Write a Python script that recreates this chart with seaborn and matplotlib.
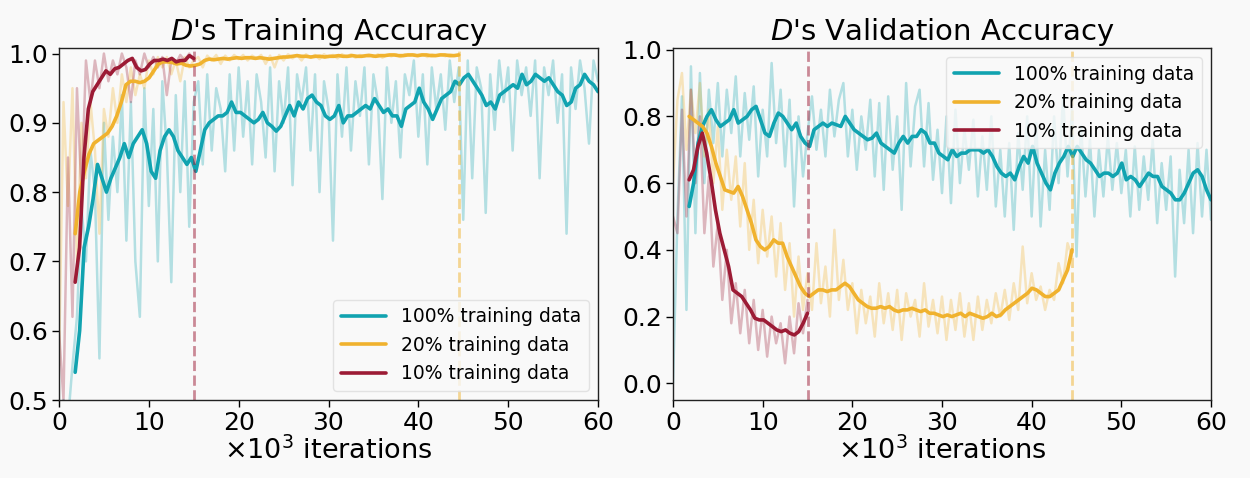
import numpy as np
import pandas as pd
import matplotlib
matplotlib.use("Agg")
import matplotlib.pyplot as plt
import seaborn as sns

# ---- data (x in thousands of iterations) ----
labels = ["100% training data", "20% training data", "10% training data"]
colors = ["#11a3b0", "#f0b22e", "#9c1b35"]
ends = [60.0, 44.5, 15.0]
smooth_start = 1.8

# training accuracy, raw (0 .. end, every 0.5k)
train_100_raw = [
    0.45, 0.50, 0.47, 0.55, 0.62, 0.78, 0.70, 0.86, 0.80, 0.56,
    0.90, 0.76, 0.88, 0.80, 0.94, 0.73, 0.93, 0.70, 0.62, 0.95,
    0.78, 0.92, 0.70, 0.96, 0.86, 0.67, 0.94, 0.80, 0.96, 0.75,
    0.93, 0.96, 0.84, 0.97, 0.86, 0.95, 0.92, 0.83, 0.97, 0.86,
    0.98, 0.88, 0.96, 0.84, 0.97, 0.93, 0.85, 0.98, 0.83, 0.96,
    0.90, 0.98, 0.81, 0.97, 0.93, 0.98, 0.86, 0.97, 0.80, 0.96,
    0.92, 0.73, 0.97, 0.88, 0.98, 0.86, 0.96, 0.91, 0.98, 0.84,
    0.97, 0.93, 0.79, 0.98, 0.90, 0.96, 0.85, 0.97, 0.94, 0.99,
    0.88, 0.97, 0.84, 0.98, 0.92, 0.97, 0.89, 0.99, 0.93, 0.98,
    0.76, 0.99, 0.82, 0.98, 0.95, 0.77, 0.97, 0.89, 0.99, 0.93,
    0.98, 0.86, 0.99, 0.94, 0.98, 0.91, 0.99, 0.82, 0.98, 0.94,
    0.99, 0.90, 0.97, 0.74, 0.98, 0.92, 0.99, 0.95, 0.87, 0.99,
    0.96,
]
train_20_raw = [
    0.55, 0.93, 0.78, 0.95, 0.70, 0.90, 0.82, 0.93, 0.86, 0.74,
    0.92, 0.88, 0.95, 0.90, 0.97, 0.93, 0.98, 0.94, 0.97, 0.95,
    0.99, 0.97, 0.995, 0.98, 0.995, 0.97, 0.99, 0.96, 0.995, 0.98,
    0.99, 0.995, 0.98, 0.997, 0.99, 0.998, 0.985, 0.997, 0.99, 0.998,
    0.992, 0.998, 0.99, 0.997, 0.993, 0.998, 0.985, 0.997, 0.98, 0.998,
    0.99, 0.999, 0.993, 0.998, 0.99, 0.999, 0.994, 0.998, 0.992, 0.999,
    0.995, 0.998, 0.993, 0.999, 0.995, 0.999, 0.994, 0.998, 0.996, 0.999,
    0.995, 0.999, 0.994, 0.998, 0.996, 0.999, 0.995, 0.999, 0.997, 0.999,
    0.996, 0.999, 0.995, 0.999, 0.997, 0.999, 0.996, 0.999, 0.997, 0.998,
]
train_10_raw = [
    0.60, 0.50, 0.85, 0.62, 0.95, 0.80, 0.99, 0.93, 0.99, 0.95,
    1.00, 0.96, 0.99, 0.97, 1.00, 0.98, 0.93, 0.99, 0.97, 1.00,
    0.98, 0.995, 0.98, 0.995, 0.94, 0.99, 0.985, 0.998, 0.99, 1.00,
    0.99,
]

# training accuracy, smoothed (1.8 .. end)
train_100_smooth = [
    0.54,
    0.60, 0.72, 0.75, 0.79, 0.84, 0.82, 0.80, 0.82, 0.835, 0.85,
    0.87, 0.85, 0.87, 0.88, 0.89, 0.87, 0.83, 0.82, 0.86, 0.88,
    0.89, 0.88, 0.86, 0.85, 0.84, 0.85, 0.83, 0.86, 0.89, 0.90,
    0.905, 0.91, 0.91, 0.915, 0.93, 0.915, 0.915, 0.91, 0.905, 0.90,
    0.905, 0.915, 0.90, 0.895, 0.888, 0.895, 0.91, 0.925, 0.91, 0.93,
    0.92, 0.935, 0.94, 0.93, 0.925, 0.91, 0.905, 0.91, 0.925, 0.90,
    0.91, 0.91, 0.915, 0.92, 0.925, 0.92, 0.935, 0.925, 0.915, 0.92,
    0.91, 0.91, 0.895, 0.92, 0.925, 0.93, 0.95, 0.93, 0.92, 0.905,
    0.92, 0.935, 0.94, 0.945, 0.96, 0.955, 0.965, 0.97, 0.96, 0.95,
    0.94, 0.925, 0.93, 0.92, 0.94, 0.945, 0.95, 0.955, 0.95, 0.97,
    0.955, 0.96, 0.97, 0.965, 0.96, 0.965, 0.955, 0.945, 0.94, 0.925,
    0.93, 0.95, 0.955, 0.97, 0.96, 0.955, 0.945,
]
train_20_smooth = [
    0.74,
    0.80, 0.83, 0.855, 0.87, 0.875, 0.88, 0.885, 0.895, 0.91, 0.93,
    0.955, 0.96, 0.96, 0.958, 0.96, 0.965, 0.975, 0.985, 0.988, 0.988,
    0.987, 0.985, 0.986, 0.983, 0.982, 0.983, 0.985, 0.99, 0.992, 0.991,
    0.992, 0.993, 0.992, 0.993, 0.994, 0.993, 0.994, 0.994, 0.993, 0.994,
    0.993, 0.992, 0.993, 0.994, 0.995, 0.995, 0.996, 0.997, 0.996, 0.996,
    0.995, 0.996, 0.996, 0.995, 0.996, 0.996, 0.997, 0.996, 0.996, 0.997,
    0.996, 0.996, 0.997, 0.997, 0.996, 0.997, 0.997, 0.998, 0.998, 0.997,
    0.997, 0.998, 0.998, 0.997, 0.998, 0.998, 0.997, 0.997, 0.998, 0.998,
    0.997, 0.997, 0.998,
]
train_10_smooth = [
    0.67,
    0.72, 0.85, 0.92, 0.945, 0.955, 0.965, 0.975, 0.97, 0.978, 0.98,
    0.985, 0.99, 0.993, 0.98, 0.975, 0.977, 0.985, 0.99, 0.99, 0.992,
    0.99, 0.993, 0.988, 0.99, 0.99, 0.997, 0.993,
]

# validation accuracy, raw
val_100_raw = [
    0.00, 0.50, 0.86, 0.22, 0.95, 0.45, 0.93, 0.60, 0.88, 0.72,
    0.90, 0.68, 0.88, 0.75, 0.92, 0.68, 0.87, 0.73, 0.89, 0.62,
    0.82, 0.68, 0.96, 0.72, 0.88, 0.65, 0.85, 0.53, 0.80, 0.62,
    0.75, 0.86, 0.70, 0.82, 0.68, 0.88, 0.74, 0.85, 0.90, 0.68,
    0.82, 0.64, 0.80, 0.70, 0.85, 0.62, 0.84, 0.58, 0.86, 0.64,
    0.80, 0.52, 0.90, 0.65, 0.83, 0.88, 0.65, 0.84, 0.61, 0.76,
    0.57, 0.80, 0.54, 0.82, 0.60, 0.76, 0.64, 0.79, 0.56, 0.74,
    0.58, 0.80, 0.53, 0.70, 0.50, 0.72, 0.46, 0.75, 0.58, 0.80,
    0.50, 0.78, 0.47, 0.70, 0.52, 0.80, 0.60, 0.86, 0.62, 0.82,
    0.38, 0.77, 0.56, 0.73, 0.50, 0.70, 0.56, 0.74, 0.58, 0.72,
    0.57, 0.70, 0.50, 0.71, 0.52, 0.68, 0.55, 0.73, 0.48, 0.66,
    0.52, 0.68, 0.32, 0.64, 0.48, 0.70, 0.45, 0.72, 0.50, 0.70,
    0.49,
]
val_20_raw = [
    0.60, 0.85, 0.93, 0.70, 0.88, 0.75, 0.90, 0.68, 0.82, 0.60,
    0.77, 0.52, 0.70, 0.55, 0.68, 0.47, 0.66, 0.40, 0.55, 0.36,
    0.52, 0.38, 0.50, 0.32, 0.48, 0.28, 0.42, 0.20, 0.38, 0.22,
    0.33, 0.22, 0.42, 0.24, 0.35, 0.20, 0.46, 0.25, 0.37, 0.22,
    0.30, 0.15, 0.28, 0.18, 0.26, 0.14, 0.30, 0.18, 0.27, 0.16,
    0.28, 0.13, 0.27, 0.20, 0.25, 0.14, 0.30, 0.17, 0.25, 0.15,
    0.26, 0.13, 0.25, 0.16, 0.27, 0.14, 0.24, 0.13, 0.26, 0.16,
    0.25, 0.18, 0.27, 0.20, 0.28, 0.19, 0.30, 0.22, 0.41, 0.24,
    0.33, 0.25, 0.29, 0.22, 0.28, 0.25, 0.36, 0.30, 0.42, 0.38,
]
val_10_raw = [
    0.50, 0.45, 0.82, 0.50, 0.88, 0.60, 0.80, 0.45, 0.62, 0.35,
    0.48, 0.25, 0.40, 0.18, 0.30, 0.15, 0.28, 0.12, 0.25, 0.10,
    0.22, 0.08, 0.20, 0.12, 0.18, 0.06, 0.20, 0.09, 0.24, 0.15,
    0.25,
]

# validation accuracy, smoothed
val_100_smooth = [
    0.53,
    0.60, 0.72, 0.77, 0.80, 0.82, 0.79, 0.77, 0.78, 0.79, 0.82,
    0.78, 0.79, 0.80, 0.82, 0.83, 0.79, 0.75, 0.74, 0.78, 0.81,
    0.80, 0.78, 0.76, 0.78, 0.74, 0.72, 0.71, 0.76, 0.77, 0.78,
    0.77, 0.78, 0.775, 0.77, 0.80, 0.78, 0.76, 0.75, 0.74, 0.73,
    0.735, 0.75, 0.72, 0.71, 0.70, 0.69, 0.72, 0.74, 0.72, 0.74,
    0.74, 0.76, 0.75, 0.72, 0.72, 0.69, 0.68, 0.67, 0.70, 0.68,
    0.69, 0.69, 0.70, 0.70, 0.70, 0.69, 0.70, 0.68, 0.65, 0.63,
    0.62, 0.63, 0.61, 0.65, 0.68, 0.66, 0.71, 0.66, 0.63, 0.60,
    0.58, 0.63, 0.66, 0.68, 0.71, 0.68, 0.71, 0.69, 0.67, 0.66,
    0.64, 0.62, 0.63, 0.63, 0.62, 0.63, 0.66, 0.61, 0.62, 0.61,
    0.59, 0.61, 0.63, 0.62, 0.62, 0.59, 0.58, 0.57, 0.55, 0.55,
    0.57, 0.60, 0.63, 0.64, 0.62, 0.58, 0.55,
]
val_20_smooth = [
    0.80,
    0.79, 0.78, 0.77, 0.75, 0.71, 0.66, 0.62, 0.58, 0.575, 0.57,
    0.59, 0.56, 0.52, 0.48, 0.43, 0.41, 0.40, 0.41, 0.43, 0.42,
    0.42, 0.38, 0.35, 0.32, 0.29, 0.27, 0.26, 0.27, 0.28, 0.28,
    0.275, 0.28, 0.28, 0.29, 0.30, 0.29, 0.27, 0.25, 0.24, 0.23,
    0.225, 0.225, 0.23, 0.225, 0.23, 0.22, 0.215, 0.22, 0.22, 0.225,
    0.22, 0.215, 0.22, 0.21, 0.21, 0.205, 0.20, 0.205, 0.20, 0.205,
    0.21, 0.20, 0.21, 0.205, 0.20, 0.195, 0.20, 0.21, 0.20, 0.205,
    0.22, 0.23, 0.24, 0.25, 0.26, 0.27, 0.285, 0.28, 0.27, 0.26,
    0.26, 0.27, 0.28, 0.31, 0.34, 0.40,
]
val_10_smooth = [
    0.61,
    0.64, 0.71, 0.75, 0.69, 0.61, 0.52, 0.45, 0.40, 0.35, 0.28,
    0.27, 0.26, 0.24, 0.22, 0.195, 0.19, 0.19, 0.18, 0.17, 0.16,
    0.155, 0.16, 0.15, 0.145, 0.155, 0.18, 0.21,
]

panels = [
    ("$D$'s Training Accuracy",
     [train_100_raw, train_20_raw, train_10_raw],
     [train_100_smooth, train_20_smooth, train_10_smooth],
     (0.5, 1.008), [0.5, 0.6, 0.7, 0.8, 0.9, 1.0], "lower right"),
    ("$D$'s Validation Accuracy",
     [val_100_raw, val_20_raw, val_10_raw],
     [val_100_smooth, val_20_smooth, val_10_smooth],
     (-0.05, 1.005), [0.0, 0.2, 0.4, 0.6, 0.8, 1.0], "upper right"),
]


def to_frame(values, start, end):
    return pd.DataFrame({"x": np.linspace(start, end, len(values)), "y": values})


sns.set_style("ticks")
plt.rcParams["font.family"] = ["DejaVu Sans"]
plt.rcParams["mathtext.fontset"] = "dejavusans"
plt.rcParams["text.color"] = "black"

bg = "#f9f9f9"
W, H = 1250, 478
fig, axes = plt.subplots(1, 2, figsize=(W / 100, H / 100), dpi=100, facecolor=bg)
axes[0].set_position([59 / W, 1 - 400 / H, 539 / W, 352 / H])
axes[1].set_position([673 / W, 1 - 400 / H, 538 / W, 352 / H])

for ax, (title, raws, smooths, ylim, yticks, loc) in zip(axes, panels):
    ax.set_facecolor(bg)
    for raw, col, end in zip(raws, colors, ends):
        sns.lineplot(data=to_frame(raw, 0, end), x="x", y="y", ax=ax,
                     color=col, alpha=0.3, linewidth=1.8, legend=False)
    for sm, col, end, lab in zip(smooths, colors, ends, labels):
        sns.lineplot(data=to_frame(sm, smooth_start, end), x="x", y="y", ax=ax,
                     color=col, linewidth=2.6, label=lab)
    ax.axvline(15, color=colors[2], alpha=0.5, linestyle="--", linewidth=2)
    ax.axvline(44.5, color=colors[1], alpha=0.5, linestyle="--", linewidth=2)

    ax.set_xlim(0, 60)
    ax.set_ylim(*ylim)
    ax.set_yticks(yticks)
    ax.set_xticks([0, 10, 20, 30, 40, 50, 60])
    ax.tick_params(labelsize=18, length=5, width=1, colors="black", pad=3)
    for sp in ax.spines.values():
        sp.set_visible(True)
        sp.set_color("#222222")
        sp.set_linewidth(1.0)
    ax.set_title(title, fontsize=21, pad=5, color="black")
    ax.set_xlabel(r"$\times 10^3$ iterations", fontsize=19.5, labelpad=1, color="black")
    ax.set_ylabel("")
    leg = ax.legend(loc=loc, fontsize=13.5, handlelength=2.4, frameon=True)
    leg.get_frame().set_facecolor(bg)
    leg.get_frame().set_edgecolor("#dddddd")
    for t in leg.get_texts():
        t.set_color("black")

fig.savefig("out.png", dpi=100, facecolor=bg)
